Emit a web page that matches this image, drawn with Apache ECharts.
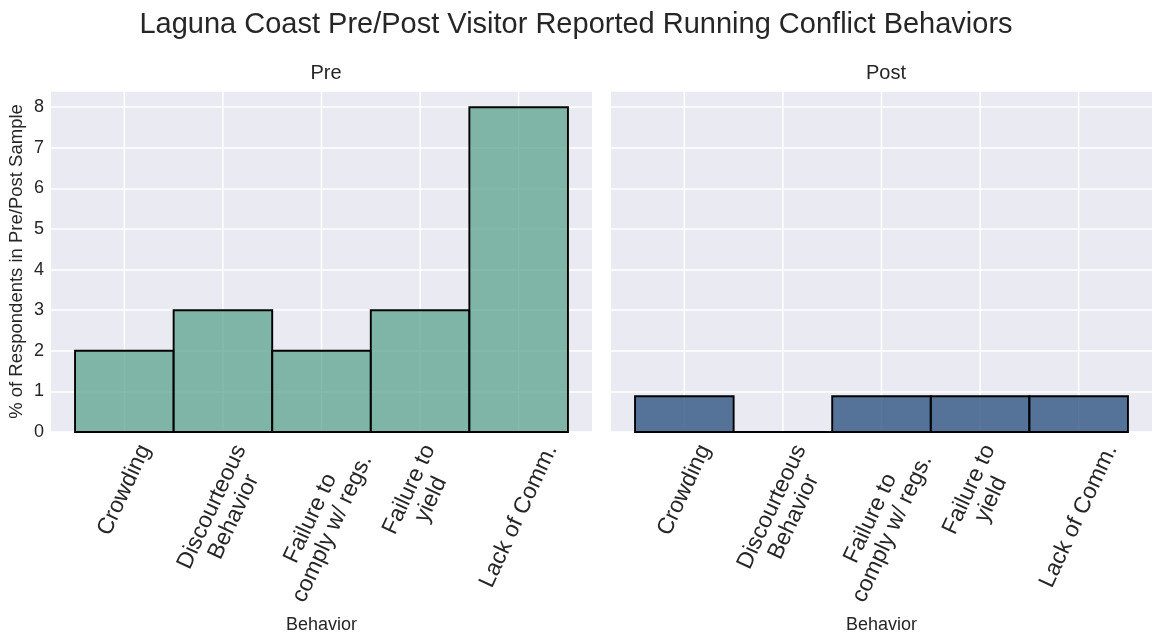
<!DOCTYPE html>
<html>
<head>
<meta charset="utf-8">
<script src="https://cdn.jsdelivr.net/npm/echarts@6/dist/echarts.min.js"></script>
<style>
html,body{margin:0;padding:0;background:#fff;}
#chart{width:1152px;height:639px;}
</style>
</head>
<body>
<div id="chart"></div>
<script>
const categories = ["Crowding", "Discourteous\nBehavior", "Failure to\ncomply w/ regs.", "Failure to\nyield", "Lack of Comm."];
const preValues = [2, 3, 2, 3, 8];
const postValues = [0.88, 0, 0.88, 0.88, 0.88];
const yTicks = [0, 1, 2, 3, 4, 5, 6, 7, 8];
const panelTitles = ["Pre", "Post"];

const FONT = '"Liberation Sans", Arial, sans-serif';
const TXT = '#262626';
const xMin = -0.744, xMax = 4.744;
const yMax = 8.4;

const chart = echarts.init(document.getElementById('chart'), null, {renderer: 'canvas'});

function barSeries(values, gridIdx, color) {
  return {
    type: 'custom',
    xAxisIndex: gridIdx, yAxisIndex: gridIdx,
    z: 3,
    silent: true,
    data: values.map((v, i) => [i, v]),
    renderItem: function (params, api) {
      const i = api.value(0), v = api.value(1);
      const p0 = api.coord([i - 0.5, 0]);
      const p1 = api.coord([i + 0.5, v]);
      return {
        type: 'rect',
        shape: {x: p0[0], y: p1[1], width: p1[0] - p0[0], height: p0[1] - p1[1]},
        style: {fill: color, stroke: '#000', lineWidth: 1.9}
      };
    }
  };
}
function vGridSeries(gridIdx) {
  return {
    type: 'custom',
    xAxisIndex: gridIdx, yAxisIndex: gridIdx,
    z: 1,
    silent: true,
    data: categories.map((c, i) => [i]),
    renderItem: function (params, api) {
      const i = api.value(0);
      const a = api.coord([i, 0]);
      const b = api.coord([i, yMax]);
      return {type: 'line', shape: {x1: a[0], y1: a[1], x2: b[0], y2: b[1]},
        style: {stroke: '#ffffff', lineWidth: 1.5}};
    }
  };
}

const grids = [
  {left: 51, top: 91, width: 541, bottom: 204, show: true, backgroundColor: '#eaeaf2', borderWidth: 0},
  {left: 611, top: 91, width: 541, bottom: 204, show: true, backgroundColor: '#eaeaf2', borderWidth: 0}
];

function xAxisDef(idx) {
  return {
    type: 'value', gridIndex: idx, min: xMin, max: xMax,
    axisLine: {show: false}, axisTick: {show: false}, axisLabel: {show: false}, splitLine: {show: false},
    name: 'Behavior', nameLocation: 'middle', nameGap: 184,
    nameTextStyle: {fontFamily: FONT, fontSize: 18, color: TXT}
  };
}
function yAxisDef(idx) {
  return {
    type: 'value', gridIndex: idx, min: 0, max: yMax, interval: 1,
    axisLine: {show: false}, axisTick: {show: false},
    axisLabel: {show: idx === 0, showMaxLabel: false, fontFamily: FONT, fontSize: 18, color: TXT, margin: 7,
      formatter: function (v) { return yTicks.indexOf(v) >= 0 ? String(v) : ''; }},
    splitLine: {show: true, lineStyle: {color: '#ffffff', width: 1.5}},
    name: idx === 0 ? '% of Respondents in Pre/Post Sample' : '',
    nameLocation: 'middle', nameGap: 25,
    nameTextStyle: {fontFamily: FONT, fontSize: 18.5, color: TXT}
  };
}

chart.setOption({
  animation: false,
  backgroundColor: '#ffffff',
  title: [
    {text: 'Laguna Coast Pre/Post Visitor Reported Running Conflict Behaviors', left: 'center', top: 5,
      textStyle: {fontFamily: FONT, fontSize: 29, fontWeight: 'normal', color: TXT}},
    {text: panelTitles[0], left: 321, top: 58, textAlign: 'center',
      textStyle: {fontFamily: FONT, fontSize: 20, fontWeight: 'normal', color: TXT}},
    {text: panelTitles[1], left: 881, top: 58, textAlign: 'center',
      textStyle: {fontFamily: FONT, fontSize: 20, fontWeight: 'normal', color: TXT}}
  ],
  grid: grids,
  xAxis: [xAxisDef(0), xAxisDef(1)],
  yAxis: [yAxisDef(0), yAxisDef(1)],
  series: [
    vGridSeries(0), vGridSeries(1),
    barSeries(preValues, 0, 'rgba(89,163,141,0.75)'),
    barSeries(postValues, 1, 'rgba(35,73,122,0.75)')
  ]
});

// Rotated, centred tick labels placed from the axis scale
const canvas = document.createElement('canvas');
const ctx = canvas.getContext('2d');
const LABEL_SIZE = 23, LINE_H = 24, ANG = 65 * Math.PI / 180;
ctx.font = LABEL_SIZE + 'px ' + FONT;
const graphics = [];
[0, 1].forEach(function (g) {
  categories.forEach(function (c, i) {
    const p = chart.convertToPixel({gridIndex: g}, [i, 0]);
    const lines = c.split('\n');
    const w = Math.max.apply(null, lines.map(l => ctx.measureText(l).width));
    const h = lines.length * LINE_H;
    const bboxH = w * Math.sin(ANG) + h * Math.cos(ANG);
    graphics.push({
      type: 'text', x: p[0], y: p[1] + 9 + bboxH / 2, rotation: ANG, silent: true,
      style: {text: c, font: LABEL_SIZE + 'px ' + FONT, fill: TXT, align: 'center', verticalAlign: 'middle', lineHeight: LINE_H}
    });
  });
});
chart.setOption({graphic: graphics});
</script>
</body>
</html>
